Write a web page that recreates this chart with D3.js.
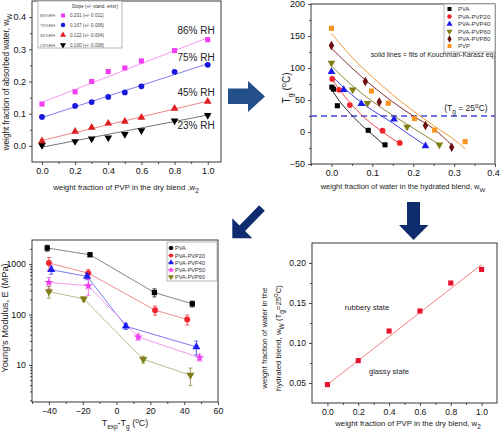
<!DOCTYPE html>
<html><head><meta charset="utf-8">
<script src="https://cdn.jsdelivr.net/npm/d3@7"></script>
<style>body{margin:0;background:#fff} svg{font-family:"Liberation Sans",Arial,sans-serif}</style>
</head><body><svg id="c" width="500" height="434"></svg>
<script>
// ---------- Panel A: water uptake vs PVP fraction ----------
const w2Values = [0, 0.2, 0.3, 0.4, 0.5, 0.6, 0.8, 1.0];
const absorbed86 = [0.130, 0.168, 0.200, 0.231, 0.242, 0.264, 0.296, 0.330];
const absorbed75 = [0.090, 0.124, 0.136, 0.152, 0.166, 0.185, 0.230, 0.252];
const absorbed45 = [0.015, 0.045, 0.057, 0.070, 0.076, 0.088, 0.116, 0.138];
const absorbed23 = [0.002, 0.014, 0.022, 0.025, 0.036, 0.048, 0.078, 0.095];
const fitEnds86 = [0.135, 0.336];
const fitEnds75 = [0.088, 0.255];
const fitEnds45 = [0.017, 0.139];
const fitEnds23 = [-0.004, 0.096];
const rhNames = ["86%RH", "75%RH", "45%RH", "23%RH"];
const rhLabels = ["86% RH", "75% RH", "45% RH", "23% RH"];
const rhLabelY = [0.348, 0.264, 0.155, 0.053];
const slopeLabels = ["0.201 (+/- 0.011)", "0.167 (+/- 0.006)", "0.122 (+/- 0.004)", "0.100 (+/- 0.008)"];

// ---------- Panel B: Tg vs water fraction ----------
const seriesB = ["PVA", "PVA-PVP20", "PVA-PVP40", "PVA-PVP60", "PVA-PVP80", "PVP"];
const tgPVA = [[0.001, 70], [0.005, 67], [0.0145, 41], [0.090, 2.6], [0.131, -20]];
const tgPVP20 = [[0.002, 83], [0.0185, 66], [0.045, 42], [0.125, 2], [0.167, -17]];
const tgPVP40 = [[0.0, 94], [0.03, 66], [0.073, 44], [0.153, 20], [0.230, -22]];
const tgPVP60 = [[0.0, 108], [0.052, 66], [0.088, 45], [0.185, 8], [0.264, -20]];
const tgPVP80 = [[0.0, 135], [0.083, 79], [0.117, 47], [0.230, 10], [0.294, -24]];
const tgPVP = [[0.0, 162], [0.098, 64], [0.139, 45], [0.203, 21], [0.252, 3], [0.327, -15]];
const fitPVA = [[0, 67], [0.02, 48], [0.04, 33], [0.07, 13], [0.10, -4], [0.13, -21]];
const fitPVP20 = [[0, 84], [0.02, 66], [0.045, 46], [0.08, 23], [0.125, 0], [0.167, -18]];
const fitPVP40 = [[0, 88], [0.05, 58], [0.10, 34], [0.15, 14], [0.19, -4], [0.23, -21]];
const fitPVP60 = [[0, 103], [0.05, 73], [0.10, 48], [0.15, 26], [0.20, 6], [0.265, -20]];
const fitPVP80 = [[0, 131], [0.05, 100], [0.10, 72], [0.15, 47], [0.20, 25], [0.25, 5], [0.295, -21]];
const fitPVP = [[0, 154], [0.05, 117], [0.10, 86], [0.15, 58], [0.20, 33], [0.25, 10], [0.30, -12], [0.327, -26]];
const tgRef = 25;

// ---------- Panel C: Young's modulus ----------
const seriesC = ["PVA", "PVA-PVP20", "PVA-PVP40", "PVA-PVP50", "PVA-PVP60"];
const dT_PVA = [-41, -15.7, 22.4, 44.8];
const E_PVA = [2080, 1530, 273, 163];
const errE_PVA = [280, 110, 50, 22];
const dT_PVP20 = [-40, -16.7, 22.8, 41.8];
const E_PVP20 = [1050, 662, 122, 80];
const errE_PVP20 = [300, 120, 25, 18];
const dT_PVP40 = [-38.6, -17.4, 5.5, 47.2];
const E_PVP40 = [772, 569, 58.6, 22.8];
const errE_PVP40 = [140, 80, 8, 7];
const dT_PVP50 = [-40, -16.7, 12.8, 49.1];
const E_PVP50 = [432, 371, 36, 14];
const errE_PVP50 = [110, 130, 5, 2];
const dT_PVP60 = [-40, -19.4, 15.8, 43.7];
const E_PVP60 = [286, 204, 13, 6.3];
const errE_PVP60 = [75, 20, 2, 2.4];

// ---------- Panel D: critical water fraction ----------
const w2D = [0, 0.2, 0.4, 0.6, 0.8, 1.0];
const wwCrit = [0.048, 0.078, 0.115, 0.140, 0.175, 0.192];
const fitD = [0.048, 0.198];

const svg = d3.select("#c");

function frame(g, x, y) {
  g.append("rect").attr("x", x.range()[0]).attr("y", y.range()[1])
    .attr("width", x.range()[1] - x.range()[0]).attr("height", y.range()[0] - y.range()[1])
    .attr("fill", "none").attr("stroke", "#222").attr("stroke-width", 0.9);
}
function axes(g, x, y, o) {
  const fs = o.fs || 9;
  const bx = g.append("g").attr("transform", `translate(0,${y.range()[0]})`)
    .call(d3.axisBottom(x).tickValues(o.xt).tickFormat(o.xf).tickSize(3).tickPadding(3));
  if (o.lastDx) bx.selectAll(".tick text").filter((d, i, n) => i === n.length - 1).attr("dx", o.lastDx);
  g.append("g").attr("transform", `translate(0,${y.range()[0]})`)
    .call(d3.axisBottom(x).tickValues(o.xm).tickFormat("").tickSize(2));
  g.append("g").attr("transform", `translate(${x.range()[0]},0)`)
    .call(d3.axisLeft(y).tickValues(o.yt).tickFormat(o.yf).tickSize(3).tickPadding(3));
  g.append("g").attr("transform", `translate(${x.range()[0]},0)`)
    .call(d3.axisLeft(y).tickValues(o.ym).tickFormat("").tickSize(2));
  g.selectAll(".domain").remove();
  g.selectAll(".tick line").attr("stroke", "#222").attr("stroke-width", 0.8);
  g.selectAll(".tick text").attr("font-size", fs).attr("fill", "#111").attr("font-family", "Liberation Sans, Arial, sans-serif");
  frame(g, x, y);
}
const sym = (type, size) => d3.symbol().type(type).size(size)();
const triDown = "rotate(180)";

// =============== Panel A ===============
{
  const g = svg.append("g");
  const x = d3.scaleLinear([-0.06, 1.08], [32, 221]);
  const y = d3.scaleLinear([-0.05, 0.45], [162, 1]);
  axes(g, x, y, {
    xt: d3.range(0, 1.01, 0.2), xf: d3.format(".1f"), xm: d3.range(0.1, 1.0, 0.2),
    yt: d3.range(0, 0.41, 0.1), yf: d3.format(".1f"), ym: d3.range(0.05, 0.4, 0.1)
  });
  const sets = [
    { v: absorbed86, f: fitEnds86, c: "#f23ef2", lc: "#f38af3", sym: d3.symbolSquare, rot: "" },
    { v: absorbed75, f: fitEnds75, c: "#1717e0", lc: "#6f6fe6", sym: d3.symbolCircle, rot: "" },
    { v: absorbed45, f: fitEnds45, c: "#dd1f1f", lc: "#ec7878", sym: d3.symbolTriangle, rot: "" },
    { v: absorbed23, f: fitEnds23, c: "#000", lc: "#666", sym: d3.symbolTriangle, rot: triDown }
  ];
  sets.slice().reverse().forEach(s => {
    g.append("line").attr("x1", x(0)).attr("x2", x(1)).attr("y1", y(s.f[0])).attr("y2", y(s.f[1]))
      .attr("stroke", s.lc).attr("stroke-width", 0.9);
  });
  sets.slice().reverse().forEach(s => {
    g.selectAll(null).data(s.v).join("path")
      .attr("d", sym(s.sym, 26))
      .attr("transform", (d, i) => `translate(${x(w2Values[i])},${y(d)}) ${s.rot}`)
      .attr("fill", s.c);
  });
  rhLabels.forEach((t, i) => {
    g.append("text").attr("x", x(0.93)).attr("y", y(rhLabelY[i])).attr("text-anchor", "middle")
      .attr("font-size", 10).attr("fill", "#222").text(t);
  });
  // legend
  const lg = g.append("g");
  lg.append("rect").attr("x", 38).attr("y", 1).attr("width", 84).attr("height", 47)
    .attr("fill", "#fff").attr("stroke", "#999").attr("stroke-width", 0.7);
  lg.append("text").attr("x", 95).attr("y", 7.5).attr("text-anchor", "middle").attr("font-size", 4.6).attr("fill", "#333")
    .text("Slope (+/- stand. error)");
  const rowY = [15.5, 25, 35, 45];
  sets.forEach((s, i) => {
    lg.append("text").attr("x", 40).attr("y", rowY[i] + 1.6).attr("font-size", 4.4).attr("fill", "#555").text(rhNames[i]);
    lg.append("path").attr("d", sym(s.sym, 16)).attr("transform", `translate(63,${rowY[i]}) ${s.rot}`).attr("fill", s.c);
    lg.append("text").attr("x", 70).attr("y", rowY[i] + 1.6).attr("font-size", 4.6).attr("fill", "#444").text(slopeLabels[i]);
  });
  const xl = g.append("text").attr("x", 126).attr("y", 190).attr("text-anchor", "middle").attr("font-size", 7.8).attr("fill", "#222");
  xl.append("tspan").text("weight fraction of PVP in the dry blend ,w");
  xl.append("tspan").attr("font-size", 6.5).attr("dy", 2.5).text("2");
  const yl = g.append("text").attr("transform", "translate(9,82) rotate(-90)").attr("text-anchor", "middle").attr("font-size", 8.2).attr("fill", "#222");
  yl.append("tspan").text("weight fraction of absorbed water, w");
  yl.append("tspan").attr("font-size", 6.5).attr("dy", 2.5).text("W");
}

// =============== Panel B ===============
{
  const g = svg.append("g");
  const x = d3.scaleLinear([-0.05, 0.4], [311, 495]);
  const y = d3.scaleLinear([-50, 200], [164, 4]);
  axes(g, x, y, {
    xt: d3.range(0, 0.401, 0.1), xf: d3.format(".1f"), xm: d3.range(0.05, 0.4, 0.1).concat([-0.05]),
    yt: d3.range(-50, 201, 50), yf: d3.format("d"), ym: d3.range(-25, 200, 50), lastDx: -2
  });
  const line = d3.line().x(d => x(d[0])).y(d => y(d[1])).curve(d3.curveMonotoneX);
  const sets = [
    { d: tgPVA, f: fitPVA, c: "#000", lc: "#111", sym: d3.symbolSquare, rot: "" },
    { d: tgPVP20, f: fitPVP20, c: "#f0242c", lc: "#e8343a", sym: d3.symbolCircle, rot: "" },
    { d: tgPVP40, f: fitPVP40, c: "#1c1cf0", lc: "#2a2ae8", sym: d3.symbolTriangle, rot: "" },
    { d: tgPVP60, f: fitPVP60, c: "#7f7f16", lc: "#7a7a18", sym: d3.symbolTriangle, rot: triDown },
    { d: tgPVP80, f: fitPVP80, c: "#6e1010", lc: "#701515", sym: d3.symbolDiamond, rot: "" },
    { d: tgPVP, f: fitPVP, c: "#f7941d", lc: "#f08c20", sym: d3.symbolSquare, rot: "" }
  ];
  g.append("line").attr("x1", x(-0.05)).attr("x2", x(0.4)).attr("y1", y(tgRef)).attr("y2", y(tgRef))
    .attr("stroke", "#4646dc").attr("stroke-width", 1.4).attr("stroke-dasharray", "6,4");
  sets.forEach(s => {
    g.append("path").attr("d", line(s.f)).attr("fill", "none").attr("stroke", s.lc).attr("stroke-width", 0.9);
  });
  sets.forEach(s => {
    g.selectAll(null).data(s.d).join("path").attr("d", sym(s.sym, 26))
      .attr("transform", d => `translate(${x(d[0])},${y(d[1])}) ${s.rot}`).attr("fill", s.c);
  });
  const lg = g.append("g");
  lg.append("rect").attr("x", 444).attr("y", 4).attr("width", 51).attr("height", 48)
    .attr("fill", "#fff").attr("stroke", "#999").attr("stroke-width", 0.7);
  const rowY = [9, 16.5, 24, 31.5, 39, 46];
  sets.forEach((s, i) => {
    lg.append("path").attr("d", sym(s.sym, 16)).attr("transform", `translate(449.5,${rowY[i]}) ${s.rot}`).attr("fill", s.c);
    lg.append("text").attr("x", 458).attr("y", rowY[i] + 2).attr("font-size", 6).attr("fill", "#333").text(seriesB[i]);
  });
  g.append("text").attr("x", 433).attr("y", 57).attr("text-anchor", "middle").attr("font-size", 6.9).attr("fill", "#222")
    .text("solid lines = fits of Kouchman-Karasz eq.");
  const t = g.append("text").attr("x", 466).attr("y", 111).attr("text-anchor", "middle").attr("font-size", 8.5).attr("fill", "#222");
  t.append("tspan").text("(T");
  t.append("tspan").attr("font-size", 6.5).attr("dy", 2.5).text("g");
  t.append("tspan").attr("dy", -2.5).text(" = 25");
  t.append("tspan").attr("font-size", 6.5).attr("dy", -3.5).text("o");
  t.append("tspan").attr("dy", 3.5).text("C)");
  const xl = g.append("text").attr("x", 403).attr("y", 189).attr("text-anchor", "middle").attr("font-size", 7.5).attr("fill", "#222");
  xl.append("tspan").text("weight fraction of water in the hydrated blend, w");
  xl.append("tspan").attr("font-size", 6.2).attr("dy", 2.5).text("W");
  const yl = g.append("text").attr("transform", "translate(290,88) rotate(-90)").attr("text-anchor", "middle").attr("font-size", 10).attr("fill", "#222");
  yl.append("tspan").text("T");
  yl.append("tspan").attr("font-size", 7.5).attr("dy", 3).text("g");
  yl.append("tspan").attr("dy", -3).text(" (");
  yl.append("tspan").attr("font-size", 7.5).attr("dy", -4).text("o");
  yl.append("tspan").attr("dy", 4).text("C)");
}

// =============== Panel C ===============
{
  const g = svg.append("g");
  const x = d3.scaleLinear([-50, 60], [32, 218]);
  const y = d3.scaleLog([1.85, 3000], [402, 240]);
  const minors = [];
  [1, 10, 100, 1000].forEach(dec => { for (let k = 2; k <= 9; k++) { const v = dec * k; if (v > 1.85 && v < 3000) minors.push(v); } });
  axes(g, x, y, {
    xt: d3.range(-40, 61, 20), xf: d3.format("d"), xm: d3.range(-50, 60, 20),
    yt: [10, 100, 1000], yf: d3.format("d"), ym: minors, fs: 8.8
  });
  const sets = [
    { x: dT_PVA, y: E_PVA, e: errE_PVA, c: "#000", lc: "#777", sym: d3.symbolSquare, rot: "" },
    { x: dT_PVP20, y: E_PVP20, e: errE_PVP20, c: "#f0242c", lc: "#ee8080", sym: d3.symbolCircle, rot: "" },
    { x: dT_PVP40, y: E_PVP40, e: errE_PVP40, c: "#1c1cf0", lc: "#6d6df0", sym: d3.symbolTriangle, rot: "" },
    { x: dT_PVP50, y: E_PVP50, e: errE_PVP50, c: "#f03cf0", lc: "#f08cf0", sym: d3.symbolStar, rot: "" },
    { x: dT_PVP60, y: E_PVP60, e: errE_PVP60, c: "#80801a", lc: "#b4b484", sym: d3.symbolTriangle, rot: triDown }
  ];
  const line = d3.line().x(d => x(d[0])).y(d => y(d[1]));
  sets.forEach(s => {
    const pts = s.x.map((v, i) => [v, s.y[i]]);
    g.append("path").attr("d", line(pts)).attr("fill", "none").attr("stroke", s.lc).attr("stroke-width", 0.9);
  });
  sets.forEach(s => {
    s.x.forEach((v, i) => {
      const cx = x(v), y1 = y(s.y[i] + s.e[i]), y2 = y(s.y[i] - s.e[i]);
      g.append("line").attr("x1", cx).attr("x2", cx).attr("y1", y1).attr("y2", y2).attr("stroke", s.c).attr("stroke-width", 0.7);
      [y1, y2].forEach(yy => g.append("line").attr("x1", cx - 2).attr("x2", cx + 2).attr("y1", yy).attr("y2", yy).attr("stroke", s.c).attr("stroke-width", 0.7));
    });
    g.selectAll(null).data(s.x).join("path").attr("d", sym(s.sym, s.sym === d3.symbolStar ? 26 : 28))
      .attr("transform", (d, i) => `translate(${x(d)},${y(s.y[i])}) ${s.rot}`).attr("fill", s.c);
  });
  const lg = g.append("g");
  lg.append("rect").attr("x", 167).attr("y", 242).attr("width", 50).attr("height", 39)
    .attr("fill", "#fff").attr("stroke", "#999").attr("stroke-width", 0.7);
  const rowY = [248, 255.5, 262.5, 270, 277];
  sets.forEach((s, i) => {
    lg.append("line").attr("x1", 168).attr("x2", 174).attr("y1", rowY[i]).attr("y2", rowY[i]).attr("stroke", s.lc).attr("stroke-width", 0.8);
    lg.append("path").attr("d", sym(s.sym, 14)).attr("transform", `translate(171,${rowY[i]}) ${s.rot}`).attr("fill", s.c);
    lg.append("text").attr("x", 175).attr("y", rowY[i] + 2).attr("font-size", 5.6).attr("fill", "#333").text(seriesC[i]);
  });
  const xl = g.append("text").attr("x", 125).attr("y", 426).attr("text-anchor", "middle").attr("font-size", 9).attr("fill", "#222");
  xl.append("tspan").text("T");
  xl.append("tspan").attr("font-size", 6.5).attr("dy", 2.5).text("exp");
  xl.append("tspan").attr("dy", -2.5).text("-T");
  xl.append("tspan").attr("font-size", 6.5).attr("dy", 2.5).text("g");
  xl.append("tspan").attr("dy", -2.5).text(" (");
  xl.append("tspan").attr("font-size", 6.5).attr("dy", -3.5).text("o");
  xl.append("tspan").attr("dy", 3.5).text("C)");
  g.append("text").attr("transform", "translate(8,318) rotate(-90)").attr("text-anchor", "middle").attr("font-size", 9.3).attr("fill", "#222")
    .text("Young's Modulus, E (MPa)");
}

// =============== Panel D ===============
{
  const g = svg.append("g");
  const x = d3.scaleLinear([-0.1, 1.1], [312, 497]);
  const y = d3.scaleLinear([0.025, 0.225], [403, 243]);
  axes(g, x, y, {
    xt: d3.range(0, 1.01, 0.2), xf: d3.format(".1f"), xm: d3.range(0.1, 1.1, 0.2),
    yt: [0.05, 0.10, 0.15, 0.20], yf: d3.format(".2f"), ym: [0.075, 0.125, 0.175], fs: 8.6
  });
  g.append("line").attr("x1", x(0)).attr("x2", x(1)).attr("y1", y(fitD[0])).attr("y2", y(fitD[1]))
    .attr("stroke", "#f07070").attr("stroke-width", 0.9);
  g.selectAll(null).data(wwCrit).join("path").attr("d", sym(d3.symbolSquare, 26))
    .attr("transform", (d, i) => `translate(${x(w2D[i])},${y(d)})`).attr("fill", "#e8102a");
  g.append("text").attr("x", 367).attr("y", 310).attr("text-anchor", "middle").attr("font-size", 7.6).attr("fill", "#222").text("rubbery state");
  g.append("text").attr("x", 389).attr("y", 374).attr("text-anchor", "middle").attr("font-size", 7.6).attr("fill", "#222").text("glassy state");
  const xl = g.append("text").attr("x", 408).attr("y", 426).attr("text-anchor", "middle").attr("font-size", 7.8).attr("fill", "#222");
  xl.append("tspan").text("weight fraction of PVP in the dry blend, w");
  xl.append("tspan").attr("font-size", 6.5).attr("dy", 2.5).text("2");
  const y1 = g.append("text").attr("transform", "translate(267,338) rotate(-90)").attr("text-anchor", "middle").attr("font-size", 7.8).attr("fill", "#222");
  y1.text("weight fraction of water in the");
  const y2 = g.append("text").attr("transform", "translate(281,338) rotate(-90)").attr("text-anchor", "middle").attr("font-size", 7.8).attr("fill", "#222");
  y2.append("tspan").text("hydrated blend,  w");
  y2.append("tspan").attr("font-size", 6.5).attr("dy", 2.5).text("W");
  y2.append("tspan").attr("dy", -2.5).text("  (T");
  y2.append("tspan").attr("font-size", 6.5).attr("dy", 2.5).text("g");
  y2.append("tspan").attr("dy", -2.5).text("=25");
  y2.append("tspan").attr("font-size", 6.5).attr("dy", -3.5).text("o");
  y2.append("tspan").attr("dy", 3.5).text("C)");
}

// =============== Arrows ===============
const arrows = svg.append("g");
arrows.append("polygon").attr("points", "228,88.5 248,88.5 248,81 265,96.5 248,112 248,104 228,104").attr("fill", "#234f8a");
arrows.append("polygon").attr("points", "259.2,205.2 264.8,210.8 245.1,231.1 252.3,238.3 232.3,238.3 232.3,218.3 239.5,225.5").attr("fill", "#0f2d6e");
arrows.append("polygon").attr("points", "407,202 420,202 420,225 428.5,225 413.5,240 399,225 407,225").attr("fill", "#0f2d6e");
</script></body></html>
